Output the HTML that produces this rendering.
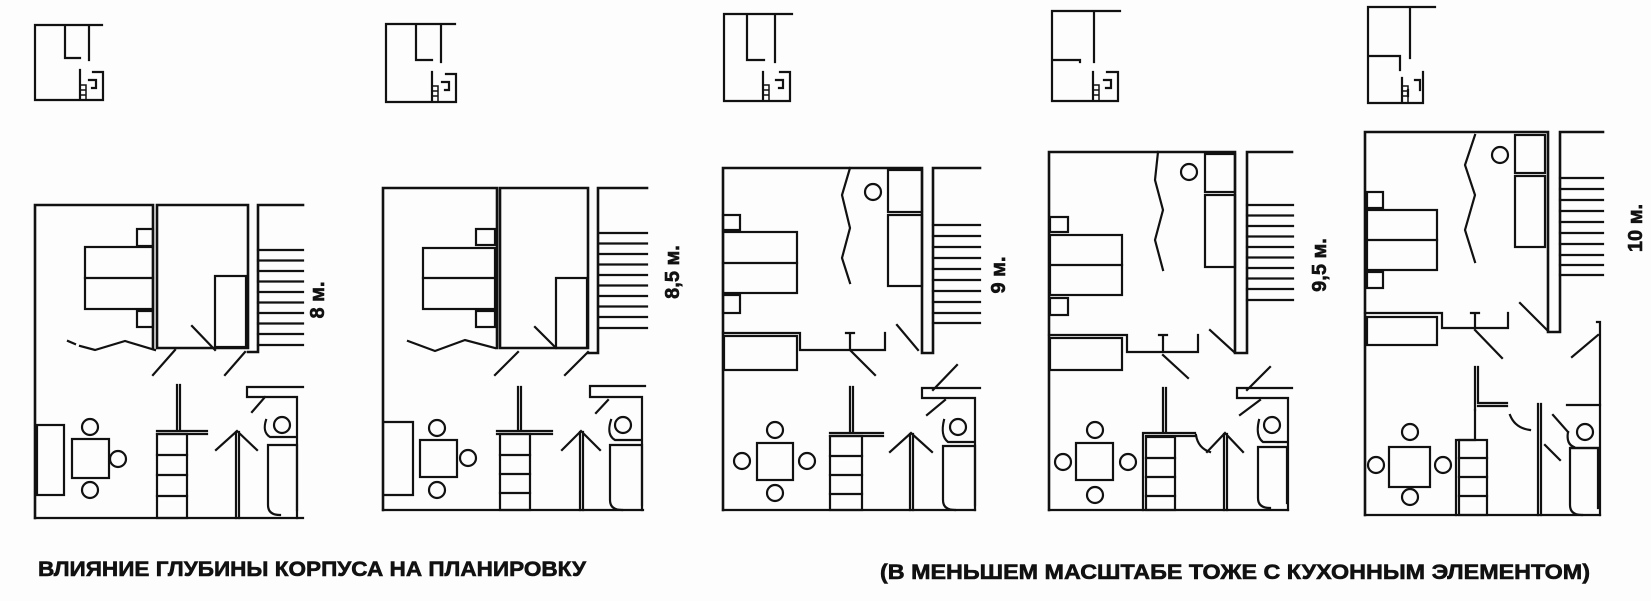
<!DOCTYPE html>
<html><head><meta charset="utf-8"><style>
html,body{margin:0;padding:0;background:#fff}
svg{display:block}
text{font-family:"Liberation Sans","DejaVu Sans",sans-serif;font-weight:bold;fill:#111;stroke:#111;stroke-width:0.6}
</style></head><body>
<svg width="1651" height="601" viewBox="0 0 1651 601" xmlns="http://www.w3.org/2000/svg">
<rect width="1651" height="601" fill="#fdfdfd"/>
<g stroke="#111" stroke-width="2.2" fill="none" stroke-linecap="square">

<!-- Thumbnails -->
<path d="M35 100 V25 H102 M65 25 V58 H80 M89 25 V60 M80 70 V100 M35 100 H103 V72 H93 M89 80 H96 V88 H92"/>
<path d="M80 85 H86 V100 M80 90 H86 M80 95 H86" stroke-width="1.5"/>
<path d="M386 102 V24 H455 M416 24 V60 H432 M441 24 V62 M432 72 V102 M386 102 H456 V74 H446 M442 82 H449 V90 H445"/>
<path d="M432 86 H438 V102 M432 91 H438 M432 96 H438" stroke-width="1.5"/>
<path d="M724 101 V14 H792 M747 14 V60 H764 M775 14 V62 M763 72 V101 M724 101 H790 V72 H780 M776 80 H783 V88 H779"/>
<path d="M763 85 H769 V101 M763 90 H769 M763 95 H769" stroke-width="1.5"/>
<path d="M1052 101 V11 H1120 M1052 60 H1080 V62 M1094 11 V62 M1093 72 V101 M1052 101 H1118 V72 H1107 M1104 80 H1111 V88 H1106"/>
<path d="M1093 85 H1099 V101 M1093 90 H1099 M1093 95 H1099" stroke-width="1.5"/>
<path d="M1368 103 V7 H1435 M1368 56 H1400 V70 M1410 7 V58 M1402 78 V103 M1368 103 H1423 V72 M1415 80 H1420 V90 M1408 90 V96"/>
<path d="M1402 86 H1408 V103 M1402 91 H1408 M1402 96 H1408" stroke-width="1.5"/>

<!-- PLAN 1 -->
<path d="M35 518 V205 H153 M157 205 H248 V348 H157 Z M153 205 V348 M258 205 V352 H248 M258 205 H303" stroke-width="2.6"/>
<path d="M35 518 H303"/>
<rect x="85" y="247" width="68" height="62"/><path d="M85 278 H153"/>
<rect x="137" y="229" width="16" height="17"/><rect x="137" y="311" width="16" height="16"/>
<rect x="215" y="276" width="31" height="71"/>
<path d="M258 250 H303 M258 260.5 H303 M258 271 H303 M258 281.5 H303 M258 292 H303 M258 302.5 H303 M258 313 H303 M258 323.5 H303 M258 334 H303 M258 345 H303"/>
<path d="M68 341 L75 344 M80 346 L95 350 L125 341 L155 350"/>
<path d="M153 375 L175 350 M225 375 L245 352 M192 326 L215 350"/>
<path d="M177 385 V430 M180 385 V430 M157 431 H207 M157 434 H207"/>
<rect x="157" y="434" width="30" height="84"/><path d="M157 455 H187 M157 475 H187 M157 496 H187"/>
<rect x="37" y="425" width="27" height="70"/>
<rect x="72" y="439" width="37" height="39"/>
<circle cx="90" cy="427" r="8"/><circle cx="118" cy="459" r="8"/><circle cx="90" cy="490" r="8"/>
<path d="M236 432 V518 M239 432 V518 M216 450 L237 431 L257 450"/>
<path d="M247 387 H303 M247 387 V397 H297 V518 M252 412 L265 397"/>
<circle cx="282" cy="425" r="8"/>
<path d="M268 445 H297 V510 M268 445 V505 Q268 515 280 515"/>
<path d="M266 420 Q262 432 270 437 H296"/>

<!-- PLAN 2 -->
<path d="M383 510 V188 H497 M500 188 H588 V348 H500 Z M497 188 V348 M598 188 V353 H588 M598 188 H647" stroke-width="2.6"/>
<path d="M383 510 H643"/>
<rect x="423" y="248" width="72" height="61"/><path d="M423 278 H495"/>
<rect x="476" y="229" width="19" height="16"/><rect x="476" y="311" width="19" height="16"/>
<rect x="556" y="278" width="31" height="70"/>
<path d="M600 233 H647 M600 243.5 H647 M600 254 H647 M600 264.5 H647 M600 275 H647 M600 285.5 H647 M600 296 H647 M600 306.5 H647 M600 317 H647 M600 328 H647"/>
<path d="M408 341 L435 351 L465 340 L495 348"/>
<path d="M495 375 L518 352 M565 375 L588 352 M535 327 L556 348"/>
<path d="M518 387 V430 M521 387 V430 M497 431 H552 M497 434 H552"/>
<rect x="500" y="434" width="30" height="76"/><path d="M500 455 H530 M500 474 H530 M500 493 H530"/>
<path d="M384 422 H413 V495 H384"/>
<rect x="420" y="440" width="37" height="37"/>
<circle cx="437" cy="428" r="8"/><circle cx="468" cy="458" r="8"/><circle cx="437" cy="490" r="8"/>
<path d="M580 432 V510 M583 432 V510 M562 450 L581 431 L600 450"/>
<path d="M590 386 H645 M590 386 V397 H642 V510 M596 413 L608 400"/>
<circle cx="623" cy="425" r="8"/>
<path d="M610 445 H642 V505 M610 445 V500 Q610 510 622 510"/>
<path d="M611 420 Q606 435 615 440 H641"/>

<!-- PLAN 3 -->
<path d="M723 510 V168 H922 V353 H933 V168 H980" stroke-width="2.6"/>
<path d="M723 510 H975"/>
<rect x="888" y="170" width="34" height="42"/><rect x="888" y="215" width="34" height="71"/>
<circle cx="873" cy="192" r="8"/>
<path d="M850 168 L842 195 L850 228 L842 258 L850 283"/>
<rect x="723" y="232" width="74" height="61"/><path d="M723 263 H797"/>
<rect x="723" y="215" width="17" height="15"/><rect x="723" y="295" width="17" height="18"/>
<path d="M723 333 H800 V350 H885 V333 M850 350 V333 M846 333 H854"/>
<rect x="724" y="336" width="73" height="34"/>
<path d="M933 225 H980 M933 236 H980 M933 247 H980 M933 258 H980 M933 269 H980 M933 280 H980 M933 291 H980 M933 302 H980 M933 313 H980 M933 323 H980"/>
<path d="M850 350 L875 375 M897 325 L918 350"/>
<path d="M850 387 V432 M853 387 V432 M830 433 H883 M830 436 H883"/>
<rect x="830" y="436" width="32" height="74"/><path d="M830 456 H862 M830 475 H862 M830 494 H862"/>
<rect x="757" y="443" width="36" height="37"/>
<circle cx="775" cy="430" r="8"/><circle cx="742" cy="461" r="8"/><circle cx="807" cy="461" r="8"/><circle cx="775" cy="493" r="8"/>
<path d="M910 434 V510 M913 434 V510 M890 452 L911 433 L932 452"/>
<path d="M933 390 L957 365 M922 388 H980 M922 388 V398 H975 V510 M927 415 L945 400"/>
<circle cx="958" cy="427" r="8"/>
<path d="M943 446 H975 V505 M943 446 V500 Q943 510 955 510"/>
<path d="M944 420 Q940 436 948 442 H974"/>

<!-- PLAN 4 -->
<path d="M1049 510 V152 H1235 V353 H1247 V152 H1292" stroke-width="2.6"/>
<path d="M1049 510 H1288"/>
<rect x="1205" y="154" width="30" height="38"/><rect x="1205" y="195" width="30" height="72"/>
<circle cx="1189" cy="172" r="8"/>
<path d="M1158 152 L1155 180 L1163 210 L1155 240 L1163 270"/>
<rect x="1050" y="235" width="72" height="60"/><path d="M1050 265 H1122"/>
<rect x="1050" y="217" width="18" height="15"/><rect x="1050" y="298" width="18" height="17"/>
<path d="M1049 335 H1127 V352 H1198 V335 M1163 352 V335 M1159 335 H1167"/>
<rect x="1050" y="338" width="72" height="32"/>
<path d="M1247 205 H1293 M1247 215.5 H1293 M1247 226 H1293 M1247 236.5 H1293 M1247 247 H1293 M1247 257.5 H1293 M1247 268 H1293 M1247 278.5 H1293 M1247 289 H1293 M1247 300 H1293"/>
<path d="M1163 355 L1188 378 M1210 330 L1234 352"/>
<path d="M1163 388 V432 M1166 388 V432 M1143 433 V510 M1143 433 H1195 M1146 436 H1195"/>
<rect x="1146" y="437" width="29" height="73"/><path d="M1146 458 H1175 M1146 477 H1175 M1146 496 H1175"/>
<path d="M1196 435 Q1198 448 1210 452"/>
<rect x="1076" y="443" width="37" height="37"/>
<circle cx="1095" cy="430" r="8"/><circle cx="1063" cy="462" r="8"/><circle cx="1128" cy="462" r="8"/><circle cx="1095" cy="495" r="8"/>
<path d="M1224 434 V510 M1227 434 V510 M1207 452 L1225 433 L1243 452"/>
<path d="M1247 390 L1270 367 M1237 388 H1292 M1237 388 V398 H1288 V510 M1240 415 L1260 400"/>
<circle cx="1272" cy="425" r="8"/>
<path d="M1258 447 H1287 V503 M1258 447 V498 Q1258 508 1270 508"/>
<path d="M1259 420 Q1255 436 1263 442 H1287"/>

<!-- PLAN 5 -->
<path d="M1365 515 V132 H1548 V332 H1560 V132 H1603" stroke-width="2.6"/>
<path d="M1365 515 H1600"/>
<rect x="1515" y="135" width="30" height="38"/><rect x="1515" y="176" width="30" height="71"/>
<circle cx="1500" cy="155" r="8"/>
<path d="M1475 135 L1465 165 L1475 195 L1465 230 L1475 262"/>
<rect x="1367" y="210" width="70" height="60"/><path d="M1367 240 H1437"/>
<rect x="1367" y="192" width="16" height="16"/><rect x="1367" y="272" width="16" height="16"/>
<path d="M1365 313 H1442 V328 H1508 V313 M1475 328 V313 M1471 313 H1479"/>
<rect x="1367" y="317" width="70" height="28"/>
<path d="M1560 178 H1603 M1560 189 H1603 M1560 200 H1603 M1560 211 H1603 M1560 222 H1603 M1560 233 H1603 M1560 244 H1603 M1560 255 H1603 M1560 265 H1603 M1560 275 H1603"/>
<path d="M1475 330 L1502 358 M1520 303 L1547 330"/>
<path d="M1597 322 H1600 V515 M1572 357 L1598 335"/>
<path d="M1475 367 V410 M1478 367 V403 H1507 M1478 406 H1507"/>
<path d="M1456 440 V515 M1456 440 H1475 V410"/>
<rect x="1459" y="440" width="28" height="75"/><path d="M1459 458 H1487 M1459 477 H1487 M1459 496 H1487"/>
<path d="M1510 415 Q1515 428 1530 430"/>
<path d="M1538 404 V515 M1541 404 V515 M1545 445 L1560 460 M1553 415 L1568 432"/>
<rect x="1389" y="447" width="41" height="40"/>
<circle cx="1410" cy="432" r="8"/><circle cx="1376" cy="465" r="8"/><circle cx="1443" cy="465" r="8"/><circle cx="1410" cy="497" r="8"/>
<path d="M1567 405 H1600 M1571 448 H1598"/>
<circle cx="1585" cy="432" r="8"/>
<path d="M1570 448 H1598 V508 M1570 448 V505 Q1570 515 1582 515"/>
<path d="M1568 432 Q1566 444 1574 447"/>
</g>

<!-- dimension labels (rotated) -->
<text transform="translate(324,300) rotate(-90)" font-size="20" text-anchor="middle">8 м.</text>
<text transform="translate(679,272) rotate(-90)" font-size="20" text-anchor="middle">8,5 м.</text>
<text transform="translate(1005,275) rotate(-90)" font-size="20" text-anchor="middle">9 м.</text>
<text transform="translate(1326,265) rotate(-90)" font-size="20" text-anchor="middle">9,5 м.</text>
<text transform="translate(1642,228) rotate(-90)" font-size="20" text-anchor="middle">10 м.</text>

<!-- captions -->
<text x="38" y="576" font-size="21" textLength="548" lengthAdjust="spacingAndGlyphs">ВЛИЯНИЕ ГЛУБИНЫ КОРПУСА НА ПЛАНИРОВКУ</text>
<text x="880" y="579" font-size="21" textLength="710" lengthAdjust="spacingAndGlyphs">(В МЕНЬШЕМ МАСШТАБЕ ТОЖЕ С КУХОННЫМ ЭЛЕМЕНТОМ)</text>
</svg>
</body></html>
